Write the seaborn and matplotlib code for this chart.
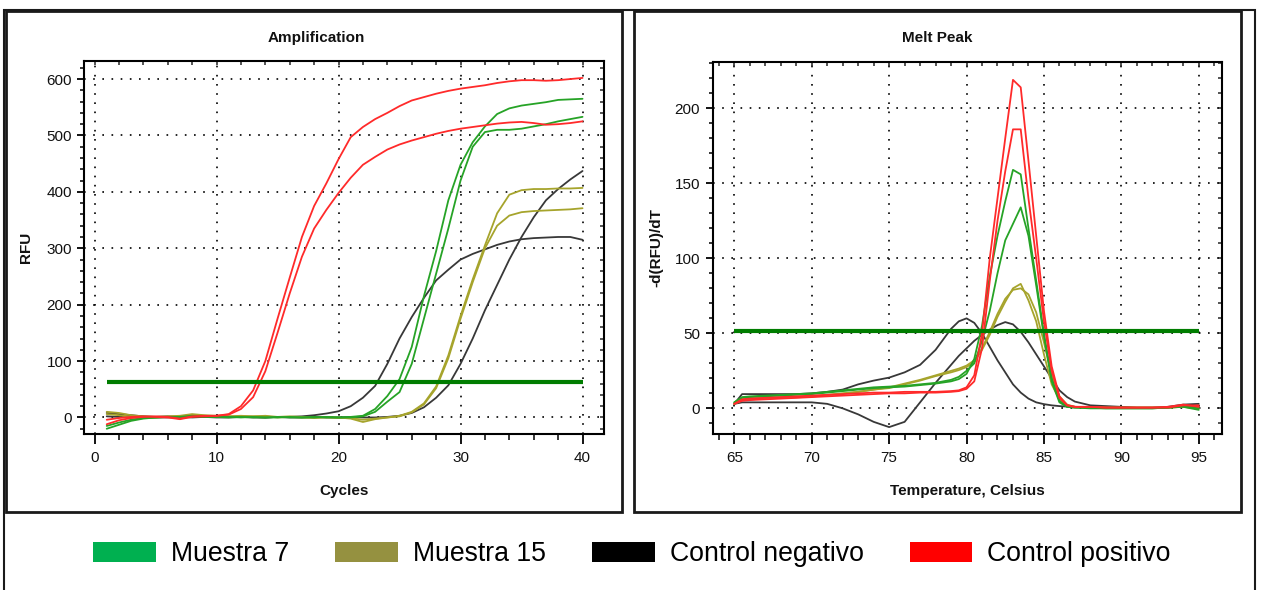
import pandas as pd
import matplotlib.pyplot as plt
import seaborn as sns
from matplotlib.patches import Patch, Rectangle
from matplotlib.ticker import MultipleLocator

# ---- Amplification data (RFU per cycle) ----
cycles = list(range(1, 41))

m7_a = [-15, -9, -4, -1, 0, 1, 0, 2, 1, 1, 0, 1, 0, 0, 1, 0, 0, 1, 0, 0,
        1, 3, 15, 38, 68, 125, 215, 295, 385, 448, 488, 516, 538, 548, 553, 556, 559, 563, 564, 565]
m7_b = [-20, -13, -6, -2, 0, 1, 1, 3, 2, 1, 1, 0, 1, 0, 0, 1, 0, 0, 1, 0,
        0, 2, 10, 28, 45, 95, 175, 255, 335, 420, 480, 506, 510, 510, 512, 516, 520, 525, 529, 533]
m15_a = [10, 8, 4, 2, 1, 2, 3, 6, 4, 3, 2, 3, 2, 3, 1, 2, 1, 0, 1, 0,
         -2, -8, -3, 0, 3, 10, 25, 55, 110, 180, 245, 305, 362, 395, 403, 405, 405, 406, 406, 407]
m15_b = [6, 4, 1, -1, 0, 1, 2, 4, 3, 2, 2, 1, 2, 2, 0, 1, 0, -1, 0, -1,
         -1, -4, -2, 0, 2, 9, 23, 52, 105, 175, 240, 300, 340, 358, 364, 366, 367, 368, 369, 371]
neg_a = [8, 6, 4, 2, 1, 2, 1, 2, 2, 1, 1, 2, 1, 0, 1, 1, 2, 4, 7, 11,
         20, 35, 56, 95, 140, 178, 212, 243, 262, 280, 290, 298, 306, 312, 316, 318, 319, 320, 320, 315]
neg_b = [2, 1, 0, 1, 0, 0, 1, 0, 1, 0, 0, 1, 0, 0, 1, 0, 0, 1, 0, 0,
         1, 0, 0, 1, 3, 8, 18, 35, 57, 95, 140, 190, 235, 280, 320, 355, 385, 405, 422, 437]
pos_a = [-4, -1, 1, 2, 1, 0, -3, 1, 2, 3, 6, 20, 48, 100, 175, 248, 320, 375, 415, 458,
         497, 515, 529, 540, 552, 562, 568, 574, 579, 583, 586, 589, 593, 596, 598, 598, 597, 598, 600, 602]
pos_b = [-12, -5, -1, 1, 2, 1, -2, 2, 3, 3, 5, 15, 36, 82, 150, 220, 285, 335, 368, 398,
         425, 448, 462, 475, 484, 491, 497, 503, 508, 512, 515, 518, 521, 523, 524, 522, 519, 520, 522, 525]
amp_threshold = 63

# ---- Melt peak data (-d(RFU)/dT per temperature) ----
temps = [65, 65.5, 66, 67, 68, 69, 70, 71, 72, 73, 74, 75, 76, 77, 78, 79,
         79.5, 80, 80.5, 81, 81.5, 82, 82.5, 83, 83.5, 84, 84.5, 85, 85.5, 86, 86.5,
         87, 88, 89, 90, 91, 92, 93, 94, 95]

melt_m7_a = [4, 7, 7.5, 8, 8.5, 9, 9.5, 10.5, 11.5, 12.5, 13.5, 14, 14.5, 15.5, 16.5, 18,
             19.5, 23, 33, 55, 88, 115, 138, 159, 156, 120, 85, 50, 20, 5, 1,
             0.5, 0.5, 0, 0, 0, 0, 0.5, 1.5, 0]
melt_m7_b = [4, 7.5, 8, 8.5, 9, 9.5, 10, 11, 12, 13, 14, 14.5, 15, 16, 17, 19,
             21, 25, 30, 45, 65, 90, 112, 123, 134, 115, 82, 48, 18, 4, 1,
             0.5, 0, 0, 0, 0, 0, 0.5, 1, -1]
melt_m15_a = [3, 6, 6.5, 7, 7.3, 7.6, 8, 9, 10, 11, 12.5, 13.5, 16, 18.5, 21.5, 24,
              25.5, 27.5, 31, 39, 49, 61, 71, 80, 83, 72, 58, 36, 16, 6, 2,
              1, 0.5, 0.5, 0.5, 0.5, 0.5, 0.5, 1, 0]
melt_m15_b = [3, 5.5, 6, 6.5, 7, 7.3, 7.8, 8.8, 9.8, 11, 12.5, 14, 16.5, 19, 22, 25,
              26.5, 28.5, 32, 40, 51, 63, 73, 79, 80, 76, 64, 44, 22, 8, 2.5,
              1, 0.5, 0.5, 0.5, 0.5, 0.5, 0.5, 1, 0]
melt_neg_a = [3, 9.5, 9.5, 9.5, 9.5, 9.5, 10, 11, 12.5, 16, 18.5, 20.5, 24, 29, 39, 53,
              58, 60, 57, 50, 41, 32, 24, 16, 10.5, 6.5, 4, 2.8, 2, 1.5, 1.2,
              1, 0.8, 0.5, 0.5, 0.3, 0.3, 0.5, 2, 1]
melt_neg_b = [3, 4, 4, 4, 4, 4, 4, 3, 0, -4, -9, -12.5, -9, 4, 17, 29,
              35, 40, 45, 49, 52.5, 55.5, 57.5, 56, 51, 44, 36, 28, 20, 12, 7.5,
              4.5, 2, 1.5, 1, 0.5, 0.5, 1, 2.5, 3]
melt_pos_a = [3, 6, 6.5, 7, 7.5, 8, 8.5, 9, 9.5, 10, 10.5, 10.5, 11, 11, 11, 11.5,
              12, 14, 22, 50, 100, 140, 180, 219, 214, 165, 115, 65, 28, 8, 2,
              1, 1, 0.5, 0.5, 0.5, 0.5, 0.5, 2, 2]
melt_pos_b = [3, 5, 5.5, 6, 6.5, 7, 7.5, 8, 8.5, 9, 9.5, 10, 10, 10.5, 10.5, 11,
              11.5, 13, 18, 40, 85, 125, 158, 186, 186, 140, 100, 58, 25, 7, 2,
              1, 1, 0.5, 0.5, 0.5, 0.5, 1, 2.5, 1]
melt_threshold = 51.5

groups = ['Muestra 7', 'Muestra 15', 'Control negativo', 'Control positivo']
line_colors = {'Muestra 7': '#26a326', 'Muestra 15': '#a6a42c',
               'Control negativo': '#383838', 'Control positivo': '#ff2a2a'}
legend_colors = ['#00b050', '#959140', '#000000', '#ff0000']

amp_wells = [('Muestra 7', 'a', m7_a), ('Muestra 7', 'b', m7_b),
             ('Muestra 15', 'a', m15_a), ('Muestra 15', 'b', m15_b),
             ('Control negativo', 'a', neg_a), ('Control negativo', 'b', neg_b),
             ('Control positivo', 'a', pos_a), ('Control positivo', 'b', pos_b)]
melt_wells = [('Muestra 7', 'a', melt_m7_a), ('Muestra 7', 'b', melt_m7_b),
              ('Muestra 15', 'a', melt_m15_a), ('Muestra 15', 'b', melt_m15_b),
              ('Control negativo', 'a', melt_neg_a), ('Control negativo', 'b', melt_neg_b),
              ('Control positivo', 'a', melt_pos_a), ('Control positivo', 'b', melt_pos_b)]

amp = pd.concat([pd.DataFrame({'cycle': cycles, 'rfu': v, 'group': g, 'well': g + w})
                 for g, w, v in amp_wells])
melt = pd.concat([pd.DataFrame({'temp': temps, 'drfu': v, 'group': g, 'well': g + w})
                  for g, w, v in melt_wells])

W, H = 1261, 590
sns.set_theme(style='white')
plt.rcParams['font.family'] = ['Liberation Sans', 'DejaVu Sans']

fig = plt.figure(figsize=(W / 100, H / 100), dpi=100)


def box(x0, y0, x1, y1):
    # pixel box (top-left origin) -> figure fraction rect
    return [x0 / W, 1 - y1 / H, (x1 - x0) / W, (y1 - y0) / H]


ax1 = fig.add_axes(box(84.4, 61, 604, 434))
ax2 = fig.add_axes(box(712.5, 62, 1221.5, 434))

draw_order = ['Control negativo', 'Muestra 15', 'Muestra 7', 'Control positivo']
sns.lineplot(data=amp, x='cycle', y='rfu', hue='group', units='well', estimator=None,
             hue_order=draw_order, palette=line_colors, legend=False, lw=1.3, ax=ax1)
ax1.hlines(amp_threshold, cycles[0], cycles[-1], color='#007d00', lw=3, zorder=4)

sns.lineplot(data=melt, x='temp', y='drfu', hue='group', units='well', estimator=None,
             hue_order=draw_order, palette=line_colors, legend=False, lw=1.3, ax=ax2)
ax2.hlines(melt_threshold, temps[0], temps[-1], color='#007d00', lw=3, zorder=4)


def style(ax, xlim, ylim, xmaj, xmin, ymaj, ymin):
    ax.set_xlim(*xlim)
    ax.set_ylim(*ylim)
    ax.xaxis.set_major_locator(MultipleLocator(xmaj))
    ax.xaxis.set_minor_locator(MultipleLocator(xmin))
    ax.yaxis.set_major_locator(MultipleLocator(ymaj))
    ax.yaxis.set_minor_locator(MultipleLocator(ymin))
    ax.grid(True, which='major', color='black', linestyle=(0, (1, 4.5)), linewidth=1.2)
    ax.set_axisbelow(True)
    for s in ax.spines.values():
        s.set_visible(True)
        s.set_color('black')
        s.set_linewidth(1.5)
    ax.tick_params(axis='x', which='major', direction='out', length=7, width=1.3,
                   color='black', labelsize=11, labelcolor='#111111', pad=5, bottom=True)
    ax.tick_params(axis='x', which='minor', direction='out', length=4, width=1.1,
                   color='black', bottom=True)
    ax.tick_params(axis='y', which='major', direction='out', length=5, width=1.3,
                   color='black', labelsize=11, labelcolor='#111111', pad=4, left=True)
    ax.tick_params(axis='y', which='minor', direction='out', length=3, width=1.1,
                   color='black', left=True)
    top = ax.secondary_xaxis('top')
    top.xaxis.set_major_locator(MultipleLocator(xmaj))
    top.xaxis.set_minor_locator(MultipleLocator(xmin))
    top.tick_params(which='both', direction='in', length=3, width=1.1, labeltop=False)
    right = ax.secondary_yaxis('right')
    right.yaxis.set_major_locator(MultipleLocator(ymaj))
    right.yaxis.set_minor_locator(MultipleLocator(ymin))
    right.tick_params(which='both', direction='in', length=3, width=1.1, labelright=False)


style(ax1, (-0.83, 41.76), (-29.3, 632), 10, 2, 100, 20)
style(ax2, (63.59, 96.47), (-17.1, 230.9), 5, 1, 50, 10)

lab = dict(fontsize=11, fontweight='bold', color='#111111')
ax1.set_xlabel('Cycles', **lab)
ax1.set_ylabel('RFU', **lab)
ax2.set_xlabel('Temperature, Celsius', **lab)
ax2.set_ylabel('-d(RFU)/dT', **lab)
for ax, ylx in ((ax1, (26 - 84.4) / 519.6), (ax2, (656 - 712.5) / 509)):
    ax.xaxis.set_label_coords(0.5, (434 - 491) / 373)
    ax.xaxis.label.set_verticalalignment('center')
    ax.yaxis.set_label_coords(ylx, 0.5)
    ax.yaxis.label.set_verticalalignment('center')

fig.text(316 / W, 1 - 38 / H, 'Amplification', ha='center', va='center', **lab)
fig.text(937.5 / W, 1 - 38 / H, 'Melt Peak', ha='center', va='center', **lab)

# panel frames and outer frame
for x0, x1 in ((6, 622), (634, 1241)):
    fig.add_artist(Rectangle((x0 / W, 1 - 512 / H), (x1 - x0) / W, (512 - 11) / H,
                             transform=fig.transFigure, fill=False, ec='#1a1a1a', lw=2))
fig.add_artist(Rectangle((4 / W, -0.02), (1255 - 4) / W, 1 - 10 / H + 0.02,
                         transform=fig.transFigure, fill=False, ec='#1a1a1a', lw=1.5))

handles = [Patch(facecolor=c, edgecolor='none', label=g) for g, c in zip(groups, legend_colors)]
fig.legend(handles=handles, loc='center', bbox_to_anchor=(632 / W, 1 - 554 / H), ncol=4,
           frameon=False, fontsize=19.2, labelcolor='black', handlelength=2.36,
           handleheight=0.8, handletextpad=0.56, columnspacing=1.72)

fig.savefig('out.png', dpi=100)
